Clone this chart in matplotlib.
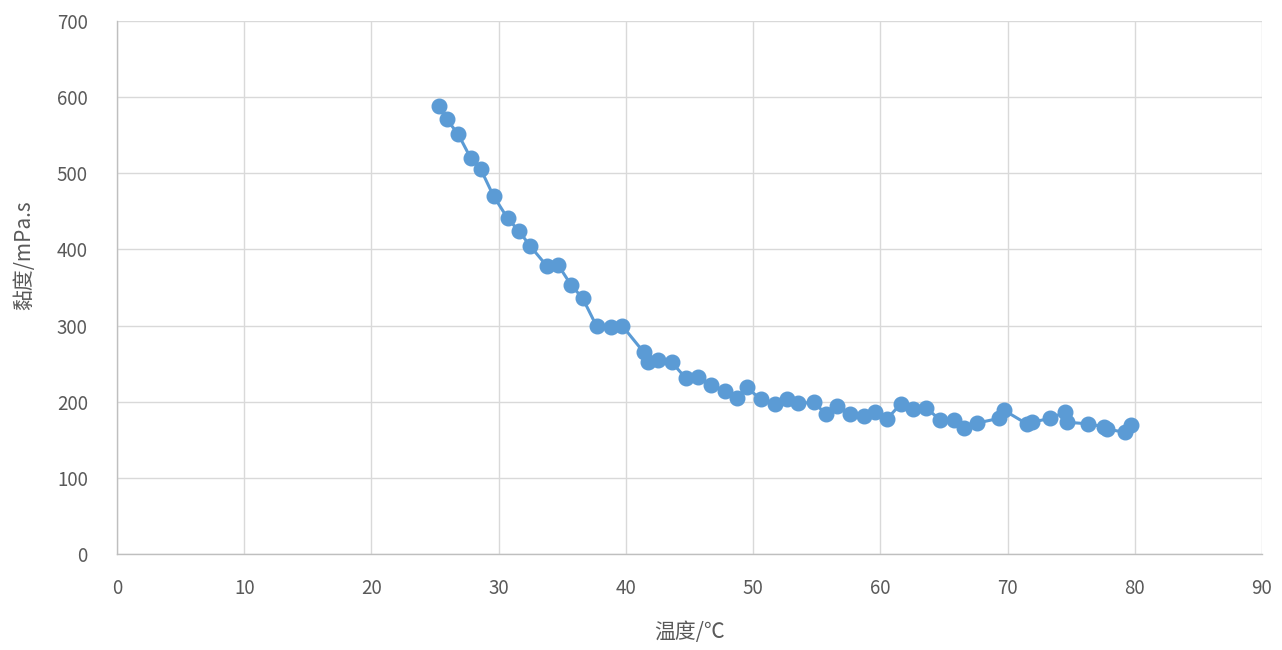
import matplotlib
matplotlib.use("Agg")
import matplotlib.pyplot as plt

plt.rcParams['font.family'] = ['Noto Sans CJK SC', 'DejaVu Sans']

temperature = [25.3, 25.9, 26.8, 27.8, 28.6, 29.6, 30.7, 31.6, 32.5, 33.8,
               34.7, 35.7, 36.6, 37.7, 38.8, 39.7, 41.4, 41.7, 42.5, 43.6,
               44.7, 45.7, 46.7, 47.8, 48.7, 49.5, 50.6, 51.7, 52.7, 53.5,
               54.8, 55.7, 56.6, 57.6, 58.7, 59.6, 60.5, 61.6, 62.6, 63.6,
               64.7, 65.8, 66.6, 67.6, 69.3, 69.7, 71.5, 71.9, 73.3, 74.5,
               74.7, 76.3, 77.6, 77.8, 79.2, 79.7]
viscosity = [589, 571, 552, 520, 505, 470, 441, 424, 404, 378,
             379, 353, 336, 299, 298, 300, 265, 252, 255, 252,
             231, 232, 222, 214, 205, 219, 203, 197, 203, 198,
             199, 184, 194, 184, 181, 186, 177, 197, 190, 192,
             176, 176, 166, 172, 178, 189, 171, 173, 178, 186,
             173, 171, 167, 164, 160, 169]

x_ticks = list(range(0, 91, 10))
y_ticks = list(range(0, 701, 100))

fig = plt.figure(figsize=(12.82, 6.5), dpi=100)
ax = fig.add_axes([117/1282, 96/650, (1262-117)/1282, (554-21)/650])

ax.plot(temperature, viscosity, color='#5B9BD5', linewidth=2.2,
        marker='o', markersize=10.5, markerfacecolor='#5B9BD5',
        markeredgecolor='#5B9BD5', zorder=3)

ax.set_xlim(0, 90)
ax.set_ylim(0, 700)
ax.set_xticks(x_ticks)
ax.set_yticks(y_ticks)
ax.grid(True, color='#D9D9D9', linewidth=1.0)
ax.set_axisbelow(True)
for s in ['top', 'right']:
    ax.spines[s].set_visible(False)
for s in ['left', 'bottom']:
    ax.spines[s].set_color('#BFBFBF')
    ax.spines[s].set_linewidth(1.0)
ax.tick_params(axis='both', length=0, labelsize=13.5, labelcolor='#595959')
ax.tick_params(axis='x', pad=17)
ax.tick_params(axis='y', pad=21)

ax.set_xlabel('温度/℃', fontsize=15, color='#595959')
ax.xaxis.set_label_coords(0.5, -0.125)
ax.set_ylabel('黏度/mPa.s', fontsize=15, color='#595959')
ax.yaxis.set_label_coords(-0.071, 0.56)

fig.savefig('out.png', dpi=100, facecolor='white')
